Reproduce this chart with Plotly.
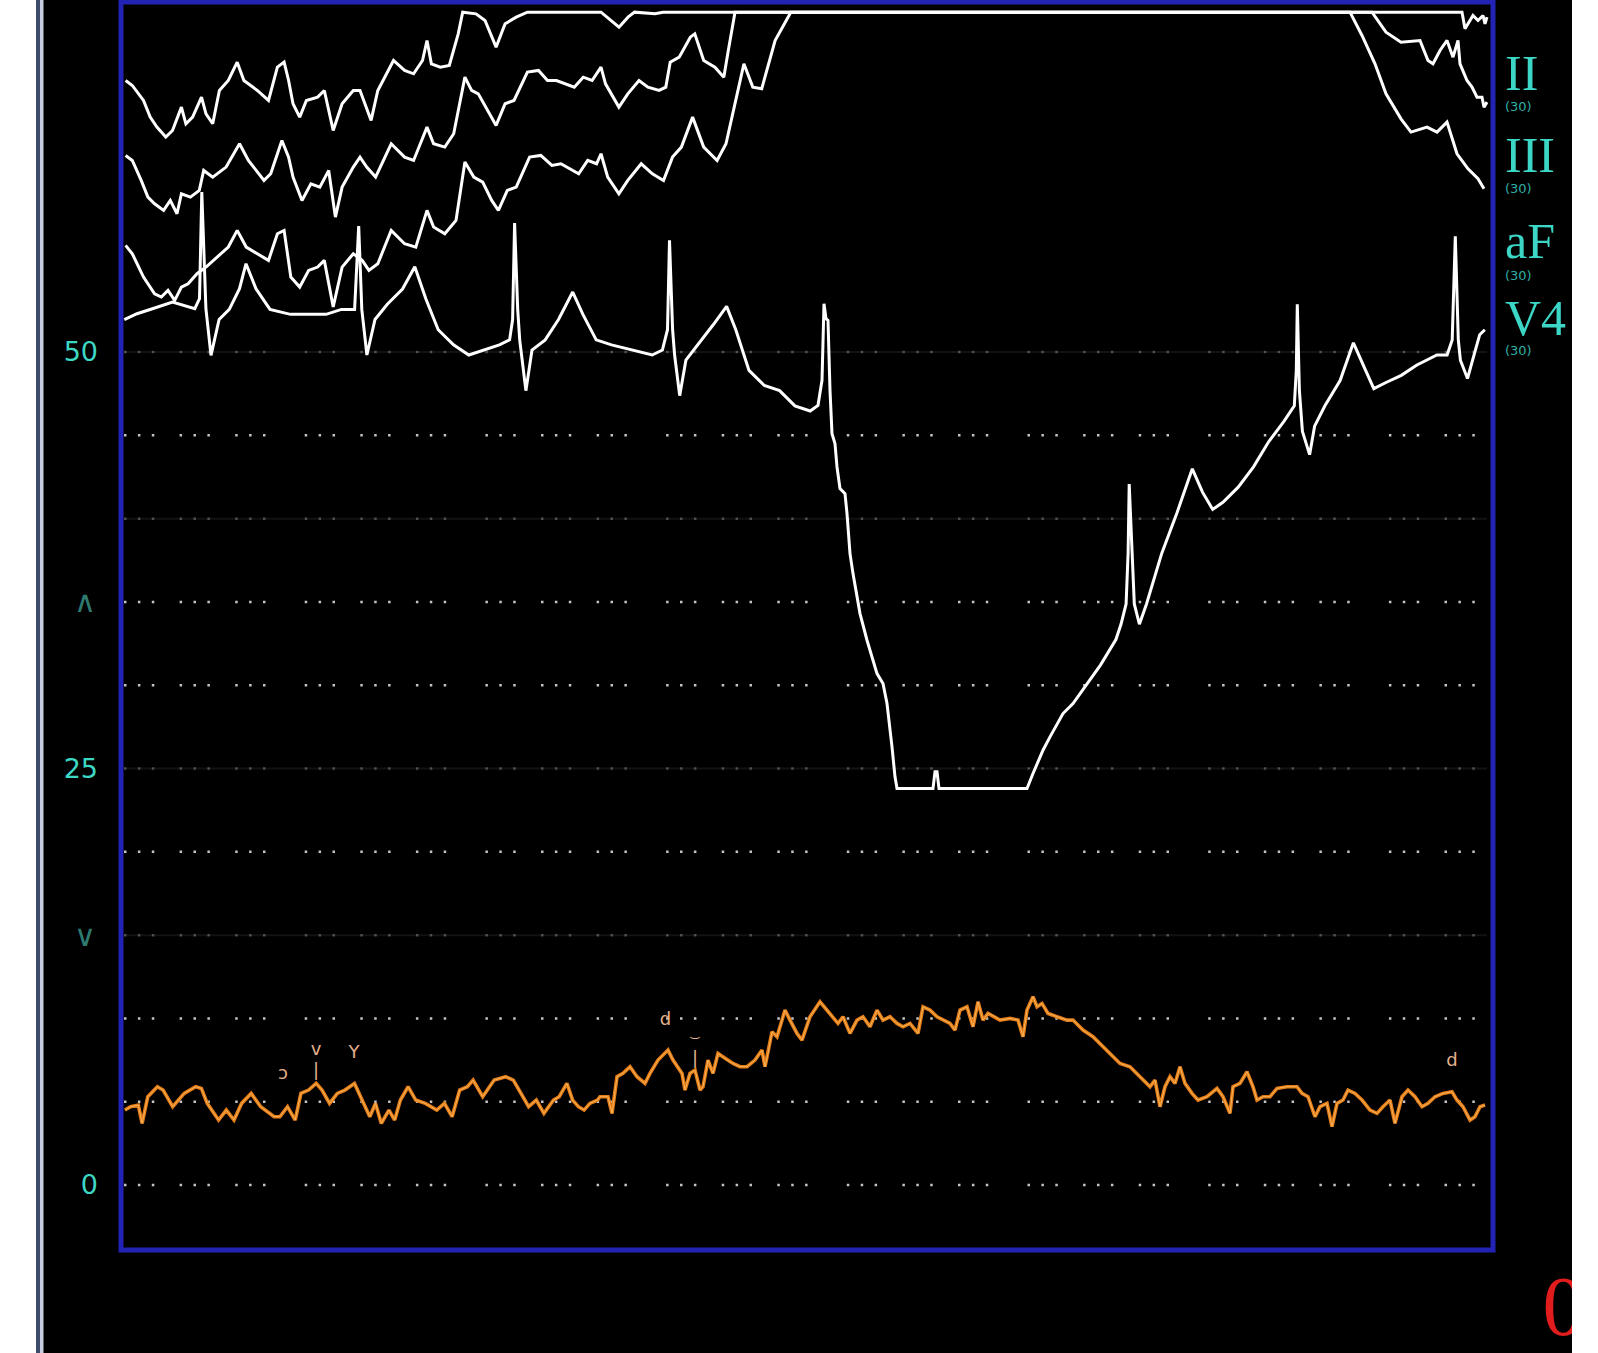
import plotly.graph_objects as go

W, H = 1598, 1353

# ---------------- data (x = sweep sample index, y = axis units 0..50) ----------------
ii_x = [125.6,132.3,143.5,150.2,156.9,165.8,172.5,181.4,185.9,192.6,201.5,206,212.7,219.4,228.3,237.2,243.9,
        257.3,268.5,277.4,284.1,288.6,293,299.7,306.4,317.6,324.3,333.2,342.1,353.3,360,368.9,371.1,377.8,
        393.5,404.6,413.6,422.5,427,431.4,440.3,449.3,458.2,462.7,476,485,496.1,505.1,516.2,527.4,601,619,
        628,634.5,655,663,1462,1465,1473,1478,1483,1485,1487]
ii_y = [66.3,66.0,65.1,64.1,63.5,62.9,63.3,64.7,63.7,64.1,65.3,64.3,63.7,65.7,66.3,67.4,66.3,
        65.7,65.1,67.1,67.4,66.3,64.9,64.1,65.1,65.3,65.7,63.3,64.9,65.7,65.7,64.3,63.9,65.7,
        67.5,66.9,66.7,67.5,68.7,67.3,67.1,67.2,69.1,70.4,70.3,69.9,68.3,69.7,70.1,70.4,70.4,69.5,
        70.1,70.4,70.3,70.4,70.4,69.4,70.2,69.9,70.2,69.7,70.1]

iii_x = [125.6,132.3,141.2,147.9,154.6,163.6,170.3,177,181.4,190.4,199.3,203.7,212.7,226.1,239.5,248.4,264,
         270.7,281.9,288.6,293,302,310.9,319.8,328.7,335.4,342.1,353.3,360,366.7,375.6,391.2,404.6,413.6,
         427,433.6,444.8,453.7,464.9,471.6,478.3,489.4,496.1,505.1,514,527.4,538.5,547.5,556.4,574.3,583.2,
         592.1,601,605.5,618.9,627.8,639,647.9,659.1,665.8,670.2,679.2,690.3,694.8,703.7,714.9,723.8,728.3,
         735,1372,1386,1401,1420,1428,1433,1440,1447,1453,1458,1460,1467,1472,1477,1482,1484,1487]
iii_y = [61.8,61.5,60.3,59.3,58.9,58.5,59.1,58.3,59.5,59.3,59.7,60.9,60.5,61.1,62.5,61.5,60.3,
         60.7,62.7,61.7,60.5,59.1,60.1,59.9,60.9,58.1,59.9,61.1,61.7,61.1,60.5,62.5,61.7,61.5,
         63.5,62.5,62.3,63.1,66.5,65.7,65.5,64.3,63.6,64.9,65.1,66.8,66.9,66.3,66.3,65.9,66.5,
         66.3,67.1,66.1,64.7,65.5,66.3,65.9,65.7,65.9,67.4,67.7,68.9,69.1,67.5,67.1,66.5,68.1,
         70.4,70.4,69.2,68.6,68.7,67.5,67.3,68.1,68.7,67.7,68.7,67.3,66.3,65.9,65.3,65.3,64.7,65.0]

af_x = [125.6,132.3,143.5,150.2,154.6,161.3,168,174.7,181.4,188.1,197,206,217.1,228.3,237.2,246.2,257.3,
        268.5,277.4,284.1,290.8,299.7,308.7,317.6,324.3,333.2,342.1,353.3,362.2,368.9,377.8,391.2,404.6,
        415.8,427,433.6,444.8,456,464.9,473.8,482.7,491.7,498.4,507.3,516.2,529.6,540.8,551.9,560.9,578.7,
        587.7,596.6,601,607.7,618.9,627.8,641.2,652.4,663.5,672.5,681.4,692.6,703.7,717.1,726,743.9,752.8,
        761.7,775.1,790.8,1350,1362,1375,1386,1401,1411,1427,1437,1447,1457,1468,1478,1484]
af_y = [56.4,55.9,54.5,53.9,53.5,53.3,53.7,53.1,53.9,54.1,54.7,55.1,55.7,56.3,57.3,56.3,55.9,
        55.5,57.1,57.3,54.5,53.9,54.9,55.1,55.5,52.7,55.1,55.9,55.5,54.9,55.3,57.3,56.5,
        56.3,58.5,57.5,57.1,57.9,61.4,60.5,60.2,59.1,58.5,59.7,59.9,61.7,61.8,61.2,61.3,60.7,
        61.5,61.3,61.9,60.5,59.5,60.3,61.3,60.7,60.3,61.7,62.3,64.1,62.3,61.5,62.5,67.3,65.9,
        65.8,68.7,70.4,70.4,69.0,67.3,65.5,64.0,63.2,63.5,63.2,63.8,61.9,61.0,60.4,59.8]

v4_x = [124.3,137,152.4,172.5,194.8,199.5,201.8,205.9,211,219.1,229.3,239.5,246,256,270,290.4,305.7,326.1,
        341.4,354.6,358.7,361.8,366.9,375,387.3,402.5,414.8,426,438.2,453.5,468.8,484.1,499.4,509.6,512.6,
        514.6,517.7,519.7,525.9,532,545.2,558.5,572.7,582.9,596.2,611.5,631.8,652.2,662.4,667.5,669.5,
        672.6,674.6,679.7,685.9,698.1,713.4,726.6,735.8,749,764.3,779.6,794.9,810.2,818,822,824,826,828,
        830,832,835,837,840,845,847,850,853,860,867,877,883,887,892,895,897,933,935,937,939,1027,1033,
        1043,1050,1063,1073,1080,1100.6,1115.9,1121,1126.1,1128.1,1129.2,1131.2,1134.3,1139.4,1146.5,
        1161.8,1177.1,1192.3,1202.5,1212.7,1222.9,1238.2,1253.5,1268.8,1284.1,1294.3,1296.3,1297.3,1299.4,
        1302.4,1309.6,1314.6,1324.9,1340.1,1353.4,1365.6,1373.8,1386,1401.3,1416.5,1436.9,1447.1,1452.2,
        1455.3,1458.3,1460.4,1467.5,1472.6,1479.7,1484.8]
v4_y = [51.95,52.3,52.6,53.0,52.6,53.2,59.6,52.6,49.8,51.95,52.56,53.8,55.3,53.8,52.56,52.26,52.26,52.26,
        52.56,52.56,57.56,52.56,49.82,51.95,52.87,53.78,55.12,53.17,51.34,50.43,49.82,50.12,50.43,50.73,51.95,
        57.74,52.56,50.73,47.68,50.12,50.73,51.95,53.6,52.26,50.73,50.43,50.12,49.82,50.12,51.34,56.71,
        51.34,49.82,47.38,49.51,50.43,51.65,52.74,51.34,48.9,47.99,47.68,46.77,46.46,46.8,48.3,52.9,52.0,51.9,
        47.7,45.1,44.5,43.1,41.8,41.5,40.3,37.9,36.7,34.3,32.7,30.7,30.1,28.9,26.3,24.5,23.8,23.8,24.8,24.8,23.8,23.8,24.7,
        26.1,26.9,28.3,28.9,29.5,31.22,32.74,33.66,34.88,37.93,42.07,39.15,34.88,33.66,34.88,
        37.93,40.37,42.99,41.59,40.55,40.98,41.89,43.11,44.63,45.85,46.77,48.9,52.87,47.68,
        45.24,43.84,45.55,46.77,48.29,50.55,48.9,47.8,48.17,48.6,49.21,49.82,49.82,50.73,
        56.95,50.73,49.51,48.41,49.51,51.04,51.34]

resp_x = [124.9,130.6,138.3,142.1,147.8,157.4,163.1,172.7,184.2,195.7,201.4,207.2,218.6,226.3,234,241.6,251.2,
          260.7,274.1,279.9,287.5,295.2,300.9,308.6,316.2,322,329.6,337.3,344.9,354.5,362.1,369.8,375.5,381.3,
          388.9,394.7,400.4,408.1,415.7,425.3,436.8,444.4,452.1,459.7,467.4,473.1,482.7,494.2,505.7,513.3,521,
          528.6,536.3,543.9,553.5,559.2,566.9,572.6,578.4,584.1,589.9,597.5,
          600,608,612,617,623,630,637,645,650,658,668,673,682,685,690,695,700,703,708,713,718,727,733,740,747,
          755,762,765,768,772,777,785,790,797,802,810,820,830,838,843,850,857,863,870,877,883,890,897,903,910,
          918,923,930,937,943,950,955,960,967,973,978,983,988,995,1000,1010,1018,1023,1027,1033,1037,1042,1048,
          1057,1067,1073,1083,1093,
          1100,1110,1120,1130,1137,1143,1150,1155,1160,1165,1170,1175,1180,1185,1192,1198,1207,1217,1223,1230,
          1233,1240,1247,1253,1257,1263,1270,1277,1287,1297,1302,1308,1315,1320,1327,1332,1337,1343,1348,1355,
          1362,1370,1377,1383,1390,1395,1402,1408,1415,1422,1428,1435,1443,1452,1457,1463,1470,1475,1480,1485]
resp_y = [4.5,4.7,4.8,3.7,5.3,5.9,5.7,4.7,5.5,5.9,5.8,4.9,3.9,4.5,3.9,4.9,5.5,
          4.7,4.1,4.1,4.7,3.9,5.5,5.7,6.1,5.7,4.9,5.5,5.7,6.1,5.1,4.1,4.9,3.7,
          4.5,3.9,5.1,5.9,5.1,4.9,4.5,4.9,4.1,5.7,5.9,6.3,5.3,6.3,6.5,6.3,5.5,
          4.7,5.1,4.3,5.1,5.3,6.1,5.1,4.7,4.5,4.9,5.1,
          5.3,5.3,4.3,6.5,6.7,7.1,6.5,6.1,6.7,7.5,8.1,7.5,6.7,5.7,6.7,6.9,5.7,5.9,7.5,6.7,7.9,7.5,7.3,7.1,7.1,
          7.5,8.1,7.1,7.9,9.2,8.9,10.5,9.9,9.1,8.7,10.1,11.0,10.3,9.7,10.1,9.1,9.9,10.1,9.5,10.5,9.9,10.1,9.7,9.5,9.7,
          9.1,10.7,10.5,10.1,9.9,9.7,9.3,10.5,10.7,9.5,11.0,9.9,10.3,10.1,9.9,10.0,9.9,8.9,10.5,11.3,10.7,10.9,10.3,
          10.1,9.9,9.9,9.3,8.9,
          8.5,7.9,7.3,7.1,6.7,6.3,5.9,6.3,4.7,5.9,6.5,6.1,7.1,6.1,5.5,5.1,5.3,5.8,5.3,4.3,
          5.9,6.1,6.8,5.9,5.1,5.3,5.3,5.8,5.9,5.9,5.5,5.3,4.1,4.7,4.9,3.5,4.9,5.1,5.7,5.5,
          5.1,4.5,4.3,4.7,5.1,3.7,5.3,5.7,5.3,4.7,4.9,5.3,5.5,5.6,5.1,4.7,3.9,4.1,4.7,4.8]

beat_marks = ["ɔ", "v", "|", "Y", "d", "⌣", "|", "d"]
beat_x = [283, 316, 316, 354, 665.5, 695, 695, 1452]
beat_y = [6.65, 8.05, 6.8, 7.87, 9.88, 8.78, 7.56, 7.44]

grid_levels = [0, 5, 10, 15, 20, 25, 30, 35, 40, 45, 50]
grid_dim = [15, 25, 40, 50]
tick_vals = [0, 25, 50]
tick_text = ["0", "25", "50"]
alarm_levels = [35, 15]
alarm_marks = ["∧", "∨"]

leads = ["II", "III", "aF", "V4"]
lead_gain = ["(30)", "(30)", "(30)", "(30)"]

# ---------------- figure ----------------
X0, X1, YT, YB = 121, 1493, 2, 1250
fig = go.Figure()

for xs, ys in [(ii_x, ii_y), (iii_x, iii_y), (af_x, af_y), (v4_x, v4_y)]:
    fig.add_trace(go.Scatter(x=xs, y=ys, mode="lines", line=dict(color="white", width=3),
                             hoverinfo="skip", showlegend=False))
fig.add_trace(go.Scatter(x=resp_x, y=resp_y, mode="lines", line=dict(color="#e47c16", width=3.6),
                         hoverinfo="skip", showlegend=False))
fig.add_trace(go.Scatter(x=resp_x, y=resp_y, mode="lines", line=dict(color="#f6b45c", width=1.0),
                         hoverinfo="skip", showlegend=False))
fig.add_trace(go.Scatter(x=beat_x, y=beat_y, mode="text", text=beat_marks,
                         textfont=dict(color="#e6b08c", size=18, family="DejaVu Sans"),
                         hoverinfo="skip", showlegend=False))
# red status digit, clipped by its own subplot
fig.add_trace(go.Scatter(x=[0.95], y=[0.38], mode="text", text=["0"], xaxis="x2", yaxis="y2",
                         cliponaxis=True,
                         textfont=dict(color="#e01c1c", size=84, family="Liberation Serif"),
                         hoverinfo="skip", showlegend=False))

dash = ("2.5px,11.4px,2.5px,11.4px,2.5px,25.3px,2.5px,11.4px,2.5px,11.4px,2.5px,25.3px,"
        "2.5px,11.4px,2.5px,11.4px,2.5px,39.2px")
shapes = []
# white page margins and left bezel
shapes.append(dict(type="rect", xref="paper", yref="paper", x0=0, x1=36 / W, y0=0, y1=1,
                   fillcolor="white", line=dict(width=0), layer="below"))
shapes.append(dict(type="rect", xref="paper", yref="paper", x0=36 / W, x1=40 / W, y0=0, y1=1,
                   fillcolor="#3c4c68", line=dict(width=0), layer="below"))
shapes.append(dict(type="rect", xref="paper", yref="paper", x0=40 / W, x1=43.5 / W, y0=0, y1=1,
                   fillcolor="#c4cee0", line=dict(width=0), layer="below"))
shapes.append(dict(type="rect", xref="paper", yref="paper", x0=1572 / W, x1=1, y0=0, y1=1,
                   fillcolor="white", line=dict(width=0), layer="below"))
for lv in grid_levels:
    if lv in grid_dim:
        shapes.append(dict(type="line", xref="x", yref="y", x0=124, x1=1487, y0=lv, y1=lv,
                           line=dict(color="rgba(255,255,255,0.07)", width=2), layer="below"))
        shapes.append(dict(type="line", xref="x", yref="y", x0=124, x1=1487, y0=lv, y1=lv,
                           line=dict(color="rgba(200,200,200,0.35)", width=2.5, dash=dash), layer="below"))
    else:
        shapes.append(dict(type="line", xref="x", yref="y", x0=124, x1=1487, y0=lv, y1=lv,
                           line=dict(color="#c4c4c4", width=2.5, dash=dash), layer="below"))
# blue frame
shapes.append(dict(type="rect", xref="paper", yref="paper", x0=X0 / W, x1=X1 / W,
                   y0=1 - YB / H, y1=1 - YT / H, line=dict(color="#2222b4", width=5), layer="above"))

ann = []
for lv, mk in zip(alarm_levels, alarm_marks):
    ann.append(dict(xref="paper", yref="y", x=85 / W, y=lv, text=mk, showarrow=False,
                    xanchor="center", yanchor="middle",
                    font=dict(color="#2f7a70", size=30, family="DejaVu Sans")))
lab_y = [73, 155, 241, 318]
sub_y = [106, 189, 275, 351]
for name, gain, ly, sy in zip(leads, lead_gain, lab_y, sub_y):
    ann.append(dict(xref="paper", yref="paper", x=1503 / W, y=1 - ly / H, xanchor="left", yanchor="middle",
                    text=name, showarrow=False,
                    font=dict(color="#3cd6c6", size=50, family="Liberation Serif")))
    ann.append(dict(xref="paper", yref="paper", x=1503 / W, y=1 - sy / H, xanchor="left", yanchor="middle",
                    text=gain, showarrow=False,
                    font=dict(color="#2faea4", size=13, family="DejaVu Sans")))

fig.update_layout(
    width=W, height=H, margin=dict(l=0, r=0, t=0, b=0),
    paper_bgcolor="black", plot_bgcolor="black",
    xaxis=dict(domain=[X0 / W, X1 / W], range=[X0, X1], visible=False, fixedrange=True),
    yaxis=dict(domain=[1 - YB / H, 1 - YT / H], range=[-3.90, 71.01], showgrid=False, zeroline=False,
               showline=False, tickvals=tick_vals, ticktext=tick_text, ticks="", ticklabelstandoff=22,
               tickfont=dict(color="#3cd8c4", size=27, family="DejaVu Sans")),
    xaxis2=dict(domain=[1400 / W, 1572 / W], range=[0, 1], visible=False, anchor="y2"),
    yaxis2=dict(domain=[0, 103 / H], range=[0, 1], visible=False, anchor="x2"),
    shapes=shapes, annotations=ann, showlegend=False,
)

fig.write_html("out.html")
